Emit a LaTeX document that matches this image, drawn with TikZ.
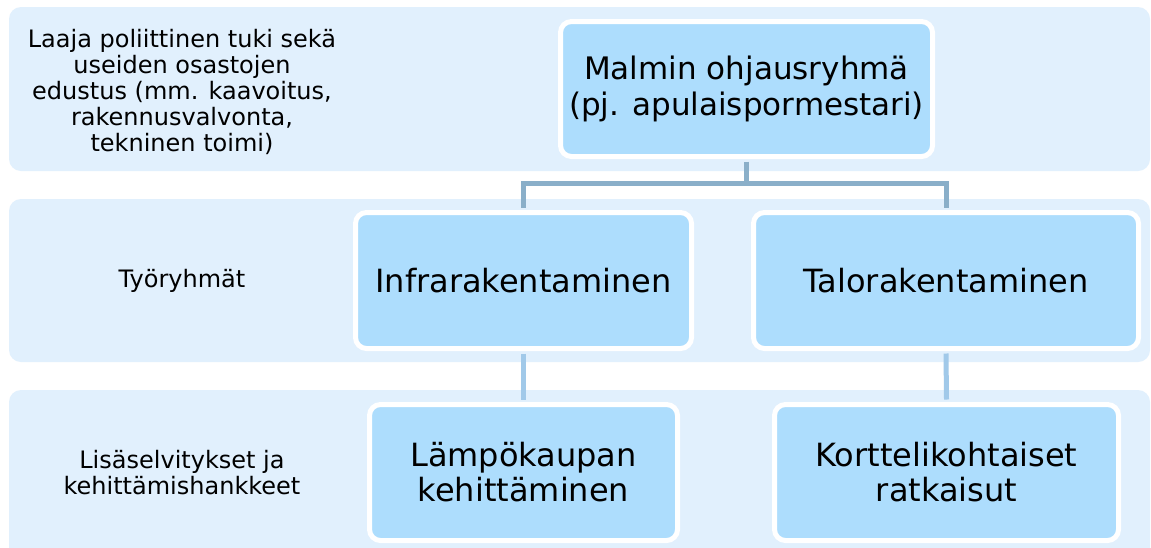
\documentclass[tikz,border=0pt]{standalone}
\usepackage{fontspec}
\setmainfont{DejaVu Sans}
\begin{document}
\begin{tikzpicture}[x=1pt,y=-1pt,
  band/.style={fill=bandc, rounded corners=12pt},
  orgbox/.style={draw=white, line width=5pt, fill=boxc, rounded corners=11pt,
    align=center, font=\fontsize{32}{35}\selectfont, inner sep=0pt},
  sidetext/.style={align=center, font=\fontsize{24}{26}\selectfont},
  conn/.style={line width=5pt, draw=connc},
  connlow/.style={line width=5pt, draw=connlc}]
\definecolor{bandc}{HTML}{E1F0FD}
\definecolor{boxc}{HTML}{ADDDFD}
\definecolor{connc}{HTML}{8AAFC9}
\definecolor{connlc}{HTML}{A1C9E9}
\useasboundingbox (0,0) rectangle (1151,547);
\fill[white] (0,0) rectangle (1151,547);
% bands
\path[band] (9,7) rectangle (1150,171);
\path[band] (9,199) rectangle (1150,362);
\path[band] (9,390) rectangle (1150,560);
% side texts
\node[sidetext] (t1) at (182,92) {Laaja poliittinen tuki sekä\\useiden osastojen\\edustus (mm. kaavoitus,\\rakennusvalvonta,\\tekninen toimi)};
\node[sidetext] (t2) at (182,281) {Työryhmät};
\node[sidetext] (t3) at (182,473) {Lisäselvitykset ja\\kehittämishankkeet};
% junction points
\coordinate (jm) at (746.5,183);
\coordinate (ji) at (523.5,183);
\coordinate (jt) at (946,183);
% boxes
\node[orgbox, minimum width=372pt, minimum height=135pt, font=\fontsize{31}{36}\selectfont] (m) at (746.5,89) {Malmin ohjausryhmä\\(pj. apulaispormestari)};
\node[orgbox, minimum width=336pt, minimum height=136pt] (i) at (523.5,280.5) {Infrarakentaminen};
\node[orgbox, minimum width=385pt, minimum height=136pt] (t) at (946,280.5) {Talorakentaminen};
\node[orgbox, minimum width=308pt, minimum height=136pt] (l) at (523.5,472.5) {Lämpökaupan\\kehittäminen};
\node[orgbox, minimum width=344pt, minimum height=136pt] (k) at (946.5,472.5) {Korttelikohtaiset\\ratkaisut};
% connectors
\draw[conn] ([yshift=-2.5pt]m.south) -- (jm);
\draw[conn, line join=miter] ([yshift=2.5pt]i.north) -- (ji) -- (jt) -- ([yshift=2.5pt]t.north);
\draw[connlow] ([yshift=-2.5pt]i.south) -- ([yshift=2.5pt]l.north);
\draw[connlow] ([yshift=-2.5pt]t.south) -- ([yshift=2.5pt]k.north);
\end{tikzpicture}
\end{document}
